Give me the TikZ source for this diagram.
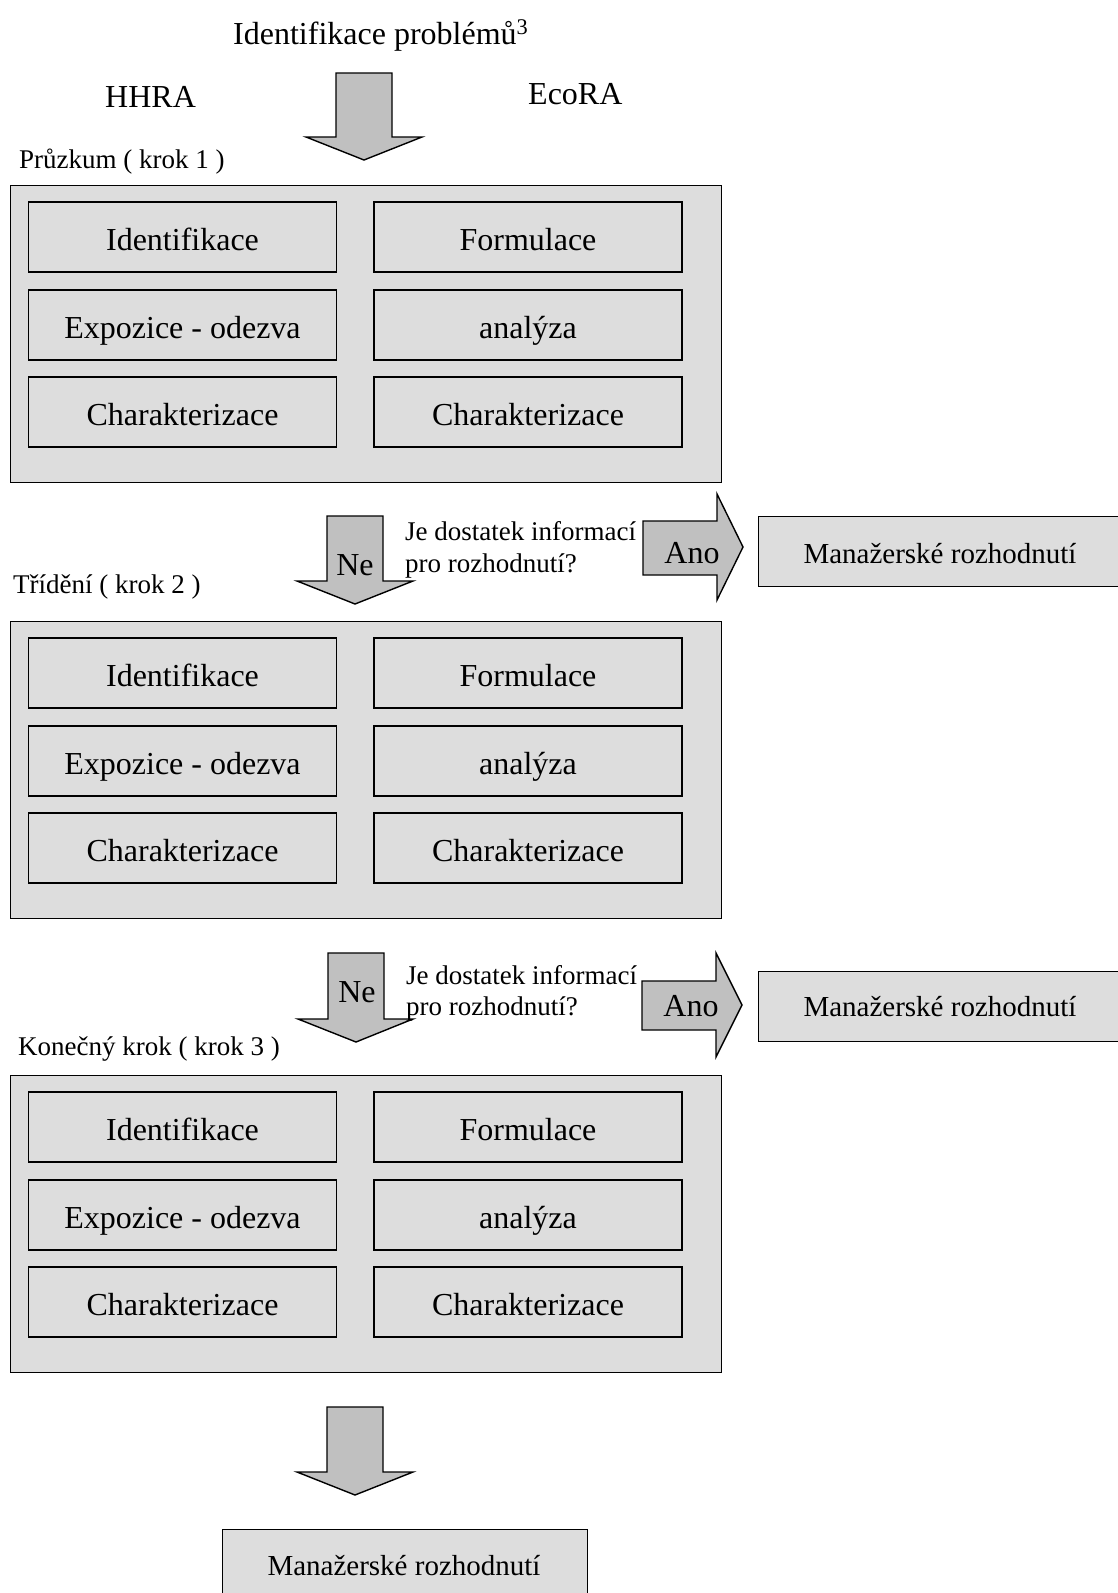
\documentclass[tikz,border=0pt]{standalone}
\usepackage{fontspec}
\setmainfont{Liberation Serif}
\definecolor{panelgray}{RGB}{221,221,221}
\definecolor{arrowgray}{RGB}{192,192,192}
\begin{document}
\begin{tikzpicture}[x=1pt,y=-1pt,
  big/.style={font=\fontsize{32}{38}\selectfont},
  small/.style={font=\fontsize{27}{32}\selectfont},
  mgr/.style={font=\fontsize{29}{34}\selectfont},
  panel/.style={draw=black, fill=panelgray, line width=1.4pt, inner sep=0pt,
    minimum width=711pt, minimum height=297pt, anchor=north west},
  cell/.style={draw=black, fill=panelgray, line width=1.4pt, inner sep=0pt,
    minimum width=308pt, minimum height=70pt, text height=27pt, text depth=0pt, big},
  decision/.style={draw=black, fill=panelgray, line width=1.4pt, inner sep=0pt, anchor=north west},
  blockarrow/.style={draw=black, fill=arrowgray, line width=1.4pt, line join=miter},
  lbl/.style={anchor=base west, inner sep=0pt},
  mid/.style={anchor=base, inner sep=0pt}
]
\clip (0,0) rectangle (1118,1593);
\fill[white] (0,0) rectangle (1118,1593);

% heading and column captions
\node[lbl, big] (title) at (233,44) {Identifikace problémů\textsuperscript{3}};
\node[lbl, big] (hhra) at (105,107) {HHRA};
\node[lbl, big] (ecora) at (528,104) {EcoRA};

% arrow into step 1
\draw[blockarrow] (336,73) -- (392,73) -- (392,137) -- (422,137) -- (364,160)
  -- (306,137) -- (336,137) -- cycle;

% three stages, each a panel with two columns of cells
\foreach \s/\top in {1/185, 2/621, 3/1075}{
  \node[panel] (stage\s) at (10,\top) {};
  \node[cell] (id\s)   at (182.5,\top+52)  {Identifikace};
  \node[cell] (exp\s)  at (182.5,\top+140) {Expozice - odezva};
  \node[cell] (char\s) at (182.5,\top+227) {Charakterizace};
  \node[cell] (form\s) at (528,\top+52)    {Formulace};
  \node[cell] (ana\s)  at (528,\top+140)   {analýza};
  \node[cell] (charb\s) at (528,\top+227)  {Charakterizace};
}
\node[lbl, small] (lab1) at (19,168) {Průzkum ( krok 1 )};
\node[lbl, small] (lab2) at (13,593) {Třídění ( krok 2 )};
\node[lbl, small] (lab3) at (18,1055) {Konečný krok ( krok 3 )};

% decision after step 1
\draw[blockarrow] (327,516) -- (383,516) -- (383,581) -- (413,581) -- (355,604)
  -- (297,581) -- (327,581) -- cycle;
\node[mid, big] (ne1) at (355,575) {Ne};
\node[lbl, small] (q1a) at (405,540) {Je dostatek informací};
\node[lbl, small] (q1b) at (405,572) {pro rozhodnutí?};
\draw[blockarrow] (643,521) -- (717,521) -- (717,494) -- (743,547) -- (717,600)
  -- (717,575) -- (643,575) -- cycle;
\node[mid, big] (ano1) at (692,563) {Ano};
\node[decision, minimum width=370pt, minimum height=70pt] (dec1) at (758,516) {};
\node[mid, mgr] (dec1t) at (940,563) {Manažerské rozhodnutí};

% decision after step 2
\draw[blockarrow] (328,953) -- (384,953) -- (384,1019) -- (413,1019) -- (356,1042)
  -- (298,1019) -- (328,1019) -- cycle;
\node[mid, big] (ne2) at (357,1002) {Ne};
\node[lbl, small] (q2a) at (406,984) {Je dostatek informací};
\node[lbl, small] (q2b) at (406,1015) {pro rozhodnutí?};
\draw[blockarrow] (642,981) -- (716,981) -- (716,953) -- (742,1005) -- (716,1057)
  -- (716,1030) -- (642,1030) -- cycle;
\node[mid, big] (ano2) at (691,1016) {Ano};
\node[decision, minimum width=370pt, minimum height=70pt] (dec2) at (758,971) {};
\node[mid, mgr] (dec2t) at (940,1016) {Manažerské rozhodnutí};

% final decision
\draw[blockarrow] (327,1407) -- (383,1407) -- (383,1472) -- (413,1472) -- (355,1495)
  -- (297,1472) -- (327,1472) -- cycle;
\node[decision, minimum width=365pt, minimum height=90pt] (dec3) at (222,1529) {};
\node[mid, mgr] (dec3t) at (404,1575) {Manažerské rozhodnutí};
\end{tikzpicture}
\end{document}
